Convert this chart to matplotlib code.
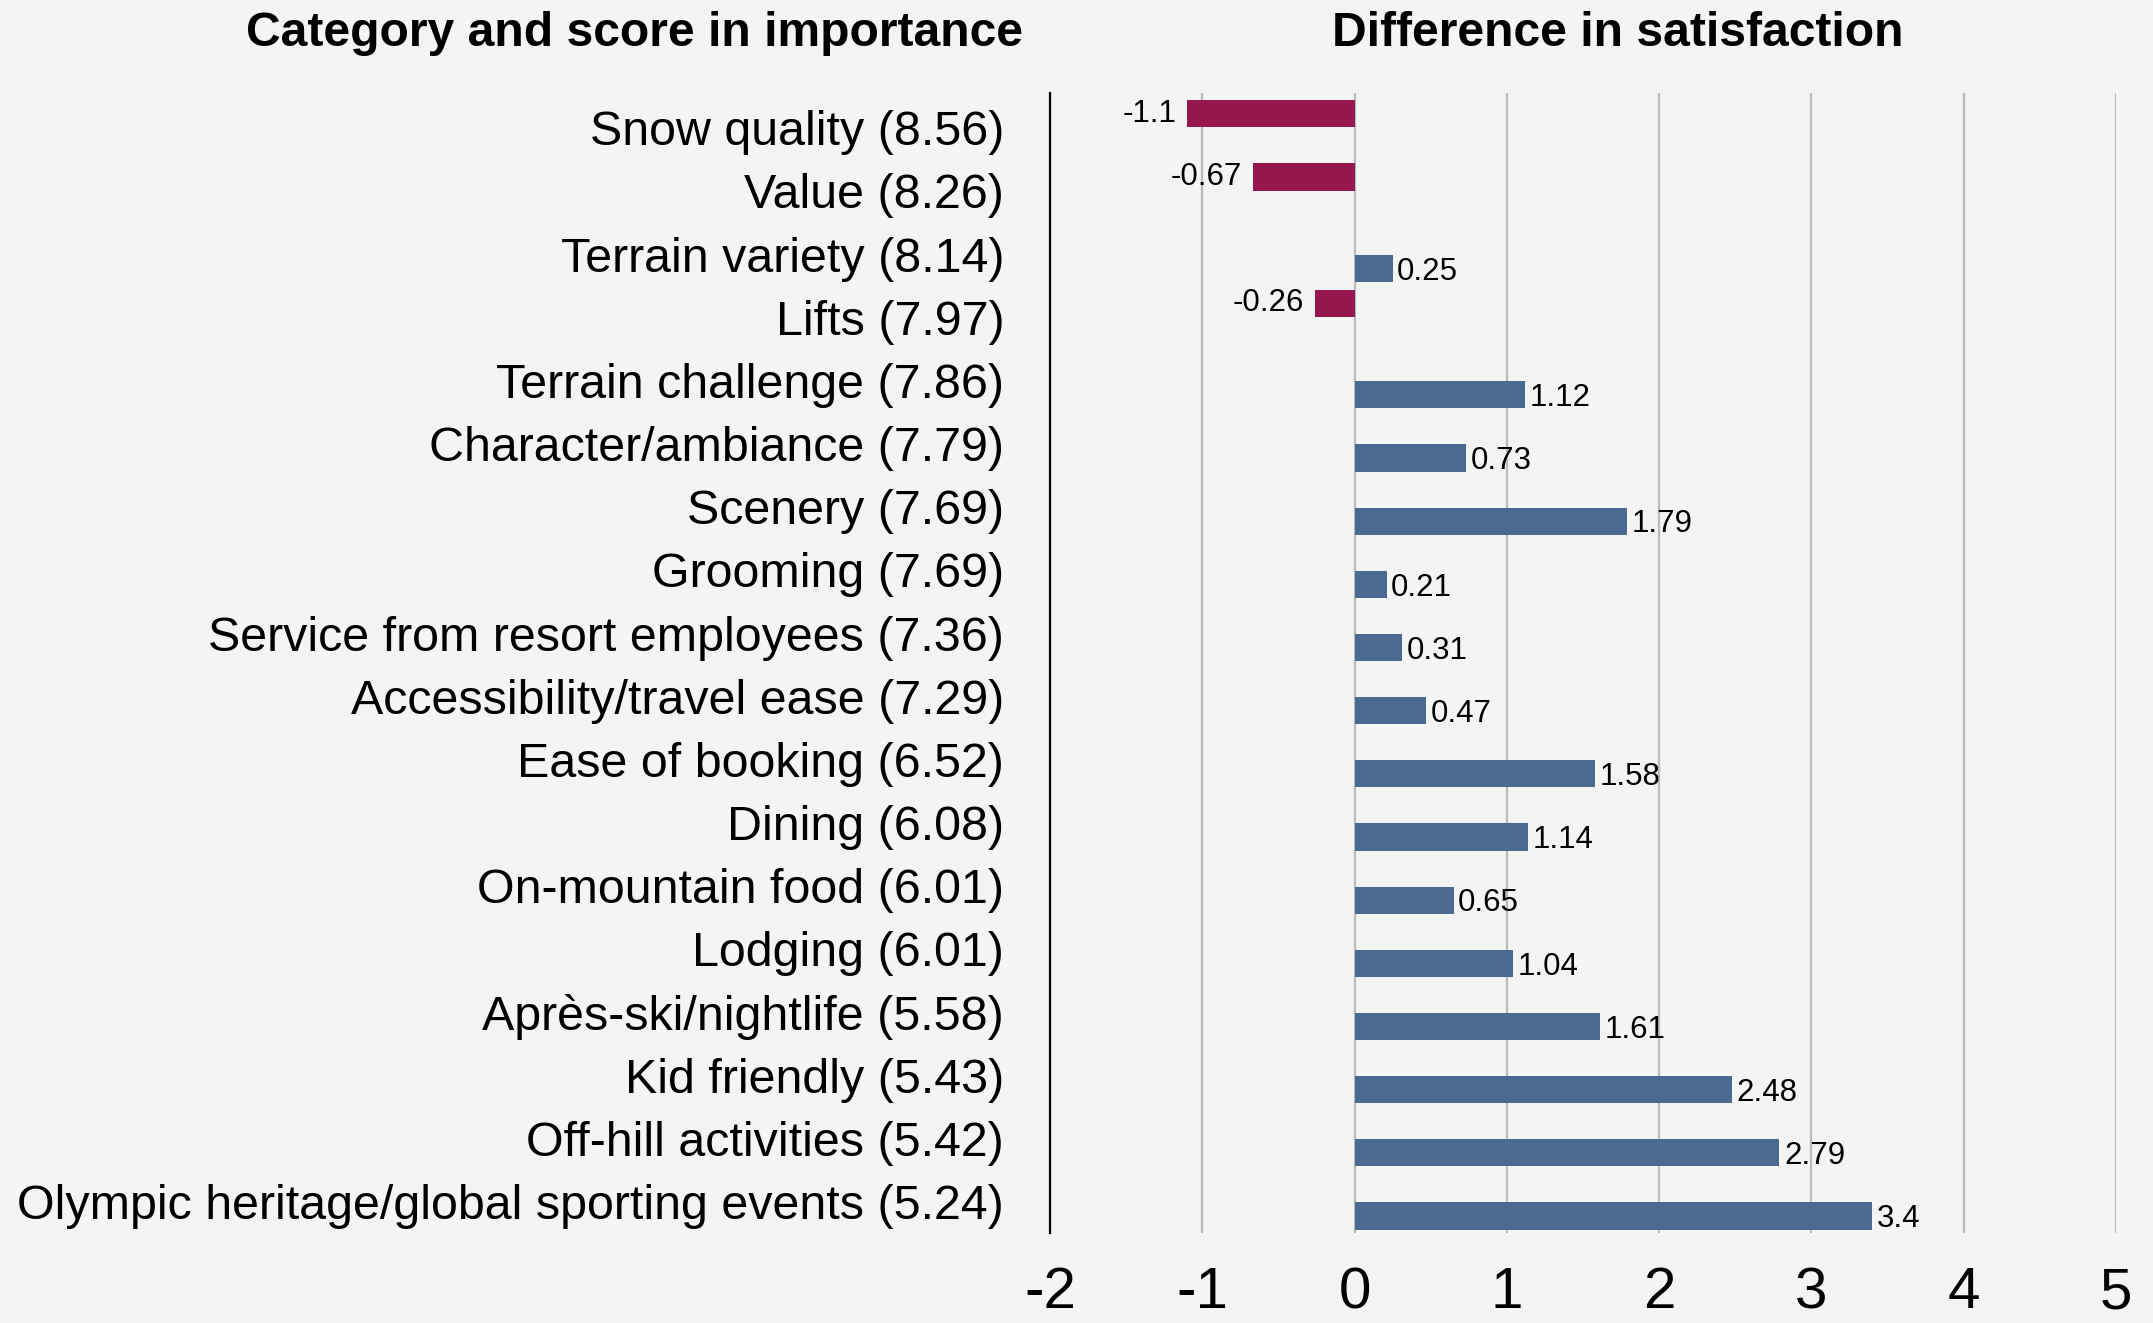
import numpy as np
import matplotlib.pyplot as plt

plt.rcParams['font.family'] = ['Liberation Sans', 'DejaVu Sans']

# data
categories = ['Snow quality (8.56)', 'Value (8.26)', 'Terrain variety (8.14)',
              'Lifts (7.97)', 'Terrain challenge (7.86)', 'Character/ambiance (7.79)',
              'Scenery (7.69)', 'Grooming (7.69)', 'Service from resort employees (7.36)',
              'Accessibility/travel ease (7.29)', 'Ease of booking (6.52)',
              'Dining (6.08)', 'On-mountain food (6.01)', 'Lodging (6.01)',
              'Après-ski/nightlife (5.58)', 'Kid friendly (5.43)',
              'Off-hill activities (5.42)',
              'Olympic heritage/global sporting events (5.24)']
diff = [-1.1, -0.67, 0.25, -0.26, 1.12, 0.73, 1.79, 0.21, 0.31, 0.47,
        1.58, 1.14, 0.65, 1.04, 1.61, 2.48, 2.79, 3.4]
value_labels = ['-1.1', '-0.67', '0.25', '-0.26', '1.12', '0.73', '1.79', '0.21',
                '0.31', '0.47', '1.58', '1.14', '0.65', '1.04', '1.61', '2.48',
                '2.79', '3.4']
xticks = [-2, -1, 0, 1, 2, 3, 4, 5]

bg = '#f4f4f4'
neg_col = '#96174e'
pos_col = '#4a6b8f'

fig = plt.figure(figsize=(21.53, 13.23), dpi=100, facecolor=bg)
ax = fig.add_axes([0.4877, 0.068, 0.4951, 0.8617], facecolor=bg)

y = np.arange(len(categories))
d = np.array(diff)
# negatives sit in the upper slot of each row, positives in the lower slot
offs = np.where(d < 0, -0.22, 0.23)
cols = [neg_col if v < 0 else pos_col for v in d]
ax.barh(y + offs, d, height=0.43, color=cols, zorder=3)

for yi, v, lab in zip(y + offs, d, value_labels):
    if v < 0:
        ax.text(v - 0.07, yi, lab, ha='right', va='center', fontsize=22.5)
    else:
        ax.text(v + 0.03, yi + 0.05, lab, ha='left', va='center', fontsize=22.5)

ax.set_xlim(-2, 5)
ax.set_ylim(17.5, -0.55)
ax.set_xticks(xticks)
ax.set_xticklabels([str(t) for t in xticks], fontsize=42)
ax.set_yticks(y)
ax.set_yticklabels(categories, fontsize=34.8)
ax.tick_params(axis='x', length=0, pad=24)
ax.tick_params(axis='y', length=0, pad=33)

ax.grid(axis='x', color='#bbbbbb', linewidth=1.6, zorder=0)
for s in ['top', 'right', 'bottom']:
    ax.spines[s].set_visible(False)
ax.spines['left'].set_color('black')
ax.spines['left'].set_linewidth(1.6)
ax.spines['left'].set_zorder(4)

fig.text(0.2945, 0.975, 'Category and score in importance', fontsize=34.6,
         fontweight='bold', ha='center', va='center')
fig.text(0.7513, 0.975, 'Difference in satisfaction', fontsize=34.6,
         fontweight='bold', ha='center', va='center')

fig.savefig('out.png', dpi=100, facecolor=bg)
